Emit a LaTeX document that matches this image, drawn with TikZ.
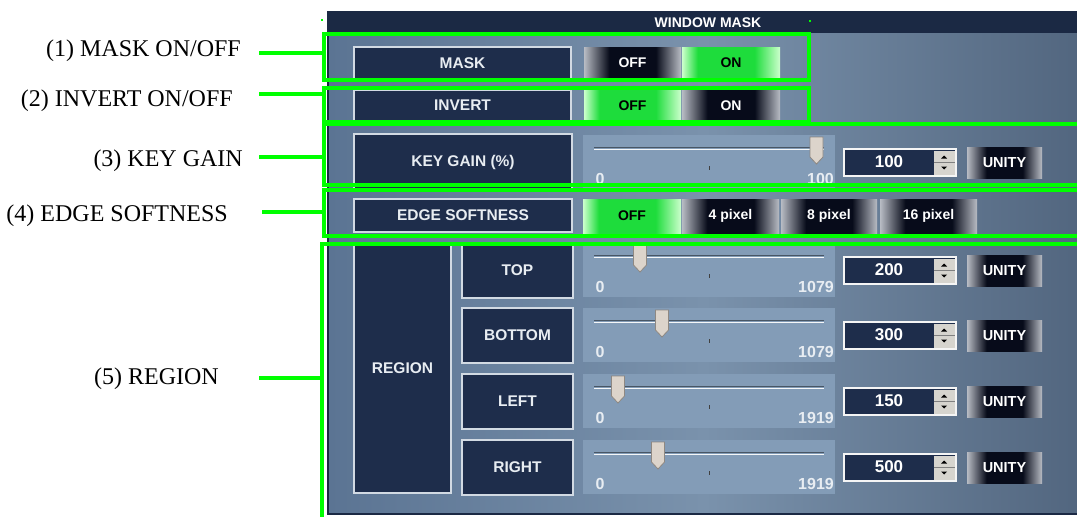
\documentclass[tikz,border=0pt]{standalone}
\usepackage{fontspec}
\setmainfont{Liberation Sans}
\newfontfamily\annofont{Liberation Serif}
\usepackage{tikz}

\definecolor{hl}{HTML}{00FF00}
\definecolor{navy}{HTML}{1E2D4B}
\definecolor{hdr}{HTML}{1B2944}
\definecolor{boxedge}{HTML}{D2DAE3}
\definecolor{labtxt}{HTML}{E8EDF2}
\definecolor{panL}{HTML}{5B7493}
\definecolor{panM}{HTML}{7A92AC}
\definecolor{panR}{HTML}{52667F}
\definecolor{slidebg}{HTML}{839CB7}
\definecolor{thumb}{HTML}{DCD4CB}
\definecolor{thumbedge}{HTML}{8E8882}
\definecolor{spin}{HTML}{D6D4CE}
\definecolor{btngrey}{HTML}{B8BCC4}
\definecolor{btndark}{HTML}{070B1A}
\definecolor{grnlite}{HTML}{CCFFCC}
\definecolor{grnmid}{HTML}{1EDC3C}

\pgfdeclarehorizontalshading{btnshade}{100bp}{color(0bp)=(btngrey); color(25bp)=(btngrey); color(38bp)=(btndark); color(62bp)=(btndark); color(75bp)=(btngrey); color(100bp)=(btngrey)}
\pgfdeclarehorizontalshading{grnshade}{100bp}{color(0bp)=(grnlite); color(25bp)=(grnlite); color(33bp)=(grnmid); color(62bp)=(grnmid); color(75bp)=(grnlite); color(100bp)=(grnlite)}

\begin{document}
\begin{tikzpicture}[x=1pt, y=-1pt,
    lbox/.style={draw=boxedge, line width=1.2pt, fill=navy, text=labtxt, inner sep=0pt,
        font=\bfseries\fontsize{15.5}{15.5}\selectfont},
    btn/.style={inner sep=0pt, font=\bfseries\fontsize{14}{14}\selectfont},
    darkbtn/.style={btn, shade, shading=btnshade, text=white},
    grnbtn/.style={btn, shade, shading=grnshade, text=black},
    hlbox/.style={draw=hl, line width=4.5pt, inner sep=0pt},
    leader/.style={draw=hl, line width=4.5pt},
    anno/.style={anchor=east, inner sep=0pt, font=\annofont\fontsize{24}{24}\selectfont},
    sliderlab/.style={inner sep=0pt, text=labtxt, font=\bfseries\fontsize{16}{16}\selectfont},
    valbox/.style={draw=white!92!gray, line width=1.3pt, fill=navy, minimum width=112pt,
        minimum height=27pt, inner sep=0pt}]
    \useasboundingbox (0,0) rectangle (1077,517);

    % panel
    \shade[left color=panL, right color=panR, middle color=panM] (328,12) rectangle (1080,514);
    \fill[hdr] (328,12) rectangle (1080,33);
    \draw[hdr, line width=1.5pt] (328,12) rectangle (1080,514);
    \node[inner sep=0pt, text=white, font=\bfseries\fontsize{14}{14}\selectfont] (title) at (708,23) {WINDOW MASK};

    % label boxes
    \node[lbox, minimum width=217pt, minimum height=32pt] (mask) at (462.5,63) {MASK};
    \node[lbox, minimum width=217pt, minimum height=31pt] (invert) at (462.5,105.5) {INVERT};
    \node[lbox, minimum width=218pt, minimum height=56pt] (keygain) at (463,162) {KEY GAIN (\%)};
    \node[lbox, minimum width=218pt, minimum height=33pt] (edge) at (463,215.5) {EDGE SOFTNESS};
    \node[lbox, minimum width=97pt, minimum height=249pt] (region) at (402.5,368.5) {REGION};
    \foreach \nm/\lab/\ty in {top/TOP/258, bottom/BOTTOM/323, left/LEFT/389, right/RIGHT/455}
        \node[lbox, minimum width=111pt, minimum height=55pt] (\nm) at (517.5,\ty+12.5) {\lab};

    % buttons
    \node[darkbtn, minimum width=97pt, minimum height=32pt] (maskoff) at (632.5,63) {OFF};
    \node[grnbtn, minimum width=98pt, minimum height=32pt] (maskon) at (731,63) {ON};
    \node[grnbtn, minimum width=97pt, minimum height=31pt] (invoff) at (632.5,105.5) {OFF};
    \node[darkbtn, minimum width=98pt, minimum height=31pt] (invon) at (731,105.5) {ON};
    \node[grnbtn, minimum width=98pt, minimum height=34pt] (edgeoff) at (632,216) {OFF};
    \node[darkbtn, minimum width=97pt, minimum height=34pt] (edge4) at (730.5,216) {4 pixel};
    \node[darkbtn, minimum width=96pt, minimum height=34pt] (edge8) at (829,216) {8 pixel};
    \node[darkbtn, minimum width=97pt, minimum height=34pt] (edge16) at (928.5,216) {16 pixel};

    % sliders, values and unity buttons
    \foreach \ty/\tx/\num/\mx [count=\i] in {150/816.5/100/100, 258/640/200/1079, 323/662/300/1079, 389/618/150/1919, 455/658/500/1919} {
        \fill[slidebg] (583,\ty-15) rectangle (835,\ty+39);
        \draw[line width=1.5pt, black!45!slidebg] (594,\ty-2.5) -- (824,\ty-2.5);
        \draw[line width=1.8pt, white!92!slidebg] (594,\ty-0.5) -- (824,\ty-0.5);
        \draw[black!75] (709,\ty+16) -- (709,\ty+20);
        \filldraw[fill=thumb, draw=thumbedge, line width=0.8pt] (\tx-6.5,\ty-13) -- (\tx+6.5,\ty-13)
            -- (\tx+6.5,\ty+7) -- (\tx,\ty+14) -- (\tx-6.5,\ty+7) -- cycle;
        \node[sliderlab] (min\i) at (600,\ty+29) {0};
        \node[sliderlab, anchor=east] (max\i) at (834,\ty+29) {\mx};
        \node[valbox] (val\i) at (900,\ty+12.5) {};
        \node[inner sep=0pt, text=white, font=\bfseries\fontsize{17}{17}\selectfont] (num\i) at (889,\ty+12) {\num};
        \fill[spin] (933.5,\ty+0.5) rectangle (954.5,\ty+24.5);
        \draw[gray, line width=0.6pt] (933.5,\ty+12.5) -- (954.5,\ty+12.5);
        \fill (941,\ty+8.5) -- (947,\ty+8.5) -- (944,\ty+5.5) -- cycle;
        \fill (941,\ty+16.5) -- (947,\ty+16.5) -- (944,\ty+19.5) -- cycle;
        \node[darkbtn, minimum width=75pt, minimum height=31pt, font=\bfseries\fontsize{14.5}{14.5}\selectfont] (unity\i) at (1004.5,\ty+12.5) {UNITY};
    }

    % green highlights
    \node[hlbox, minimum width=485pt, minimum height=46pt] (box1) at (566.5,57) {};
    \node[hlbox, minimum width=485pt, minimum height=34pt] (box2) at (566.5,105) {};
    \node[hlbox, minimum width=761pt, minimum height=61pt] (box3) at (704.5,154.5) {};
    \node[hlbox, minimum width=761pt, minimum height=46pt] (box4) at (704.5,213) {};
    \node[hlbox, minimum width=763pt, minimum height=286pt] (box5) at (703.5,387) {};
    \fill[hl] (321,19) rectangle (323,21);
    \fill[hl] (809,20) rectangle (811,22);

    % callouts
    \node[anno] (lbl1) at (241,51) {(1) MASK ON/OFF};
    \node[anno] (lbl2) at (233,101) {(2) INVERT ON/OFF};
    \node[anno] (lbl3) at (243,161) {(3) KEY GAIN};
    \node[anno] (lbl4) at (228,216) {(4) EDGE SOFTNESS};
    \node[anno] (lbl5) at (219,379) {(5) REGION};
    \coordinate (c1) at (259,53);
    \coordinate (c2) at (259,94);
    \coordinate (c3) at (259,157);
    \coordinate (c4) at (262,212);
    \coordinate (c5) at (259,378);
    \foreach \i in {1,...,5}
        \draw[leader] (c\i) -- (c\i -| box\i.west);
\end{tikzpicture}
\end{document}
